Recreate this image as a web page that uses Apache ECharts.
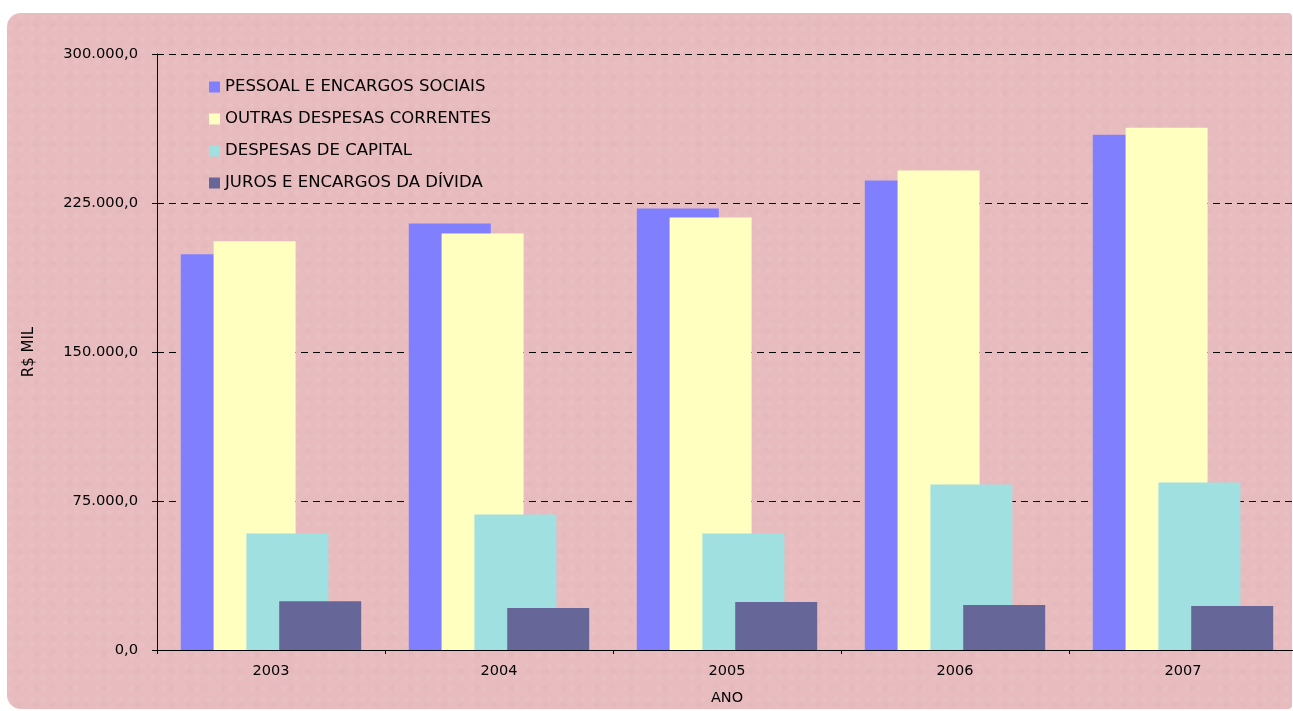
<!DOCTYPE html>
<html>
<head>
<meta charset="utf-8">
<script src="https://cdn.jsdelivr.net/npm/echarts@6/dist/echarts.min.js"></script>
<style>
html,body{margin:0;padding:0;overflow:hidden;background:#fff;width:1293px;height:711px;}
#wrap{position:absolute;left:0;top:0;width:1293px;height:711px;overflow:hidden;}
#bg{position:absolute;left:7px;top:13px;width:1285px;height:696px;border-radius:14px 4px 4px 14px;
background-color:#e8bcbf;
background-image:radial-gradient(circle at 30% 40%, rgba(255,255,255,0.07) 0, rgba(255,255,255,0) 4px),
radial-gradient(circle at 70% 70%, rgba(160,90,100,0.05) 0, rgba(160,90,100,0) 5px);
background-size:11px 11px, 17px 17px;}
#chart{position:absolute;left:0;top:0;width:1300px;height:711px;}
</style>
</head>
<body>
<div id="wrap">
<div id="bg"></div>
<div id="chart"></div>
</div>
<script>
const categories = ['2003', '2004', '2005', '2006', '2007'];
const seriesNames = ['PESSOAL E ENCARGOS SOCIAIS', 'OUTRAS DESPESAS CORRENTES', 'DESPESAS DE CAPITAL', 'JUROS E ENCARGOS DA DÍVIDA'];
const pessoal = [199200, 214700, 222200, 236300, 259400];
const outras = [205700, 209700, 217700, 241300, 262900];
const capital = [58700, 68200, 58700, 83300, 84300];
const juros = [24600, 21100, 24100, 22600, 22100];
const yTicks = {min: 0, max: 300000, interval: 75000};

const colors = ['#8080ff', '#ffffc0', '#a0e0e0', '#666699'];
const dataSets = [pessoal, outras, capital, juros];

function fmt(v) {
  const s = Math.round(v).toString().replace(/\B(?=(\d{3})+(?!\d))/g, '.');
  return s + ',0';
}

const font = "'DejaVu Sans'";
const chart = echarts.init(document.getElementById('chart'), null, {renderer: 'canvas', width: 1300, height: 711});
chart.setOption({
  backgroundColor: 'transparent',
  animation: false,
  textStyle: {fontFamily: font, color: '#000'},
  legend: {
    orient: 'vertical',
    left: 204,
    top: 72,
    itemWidth: 11,
    itemHeight: 11,
    itemGap: 12,
    icon: 'rect',
    textStyle: {fontFamily: font, fontSize: 16.5, color: '#000', lineHeight: 20},
    data: seriesNames
  },
  grid: {left: 157, right: 3, top: 54, bottom: 56, containLabel: false},
  xAxis: {
    type: 'category',
    data: categories,
    name: 'ANO',
    nameLocation: 'middle',
    nameGap: 41,
    nameTextStyle: {fontFamily: font, fontSize: 14.5, color: '#000'},
    axisLine: {show: true, lineStyle: {color: '#000', width: 1}},
    axisTick: {show: true, length: 4, lineStyle: {color: '#000'}},
    axisLabel: {fontFamily: font, fontSize: 14.5, color: '#000', margin: 14},
    splitLine: {show: false}
  },
  yAxis: {
    type: 'value',
    min: yTicks.min,
    max: yTicks.max,
    interval: yTicks.interval,
    name: 'R$ MIL',
    nameLocation: 'middle',
    nameGap: 120,
    nameRotate: 90,
    nameTextStyle: {fontFamily: font, fontSize: 15, color: '#000'},
    axisLine: {show: true, lineStyle: {color: '#000', width: 1}},
    axisTick: {show: true, length: 5, lineStyle: {color: '#000'}},
    axisLabel: {fontFamily: font, fontSize: 14.7, color: '#000', margin: 19, formatter: fmt},
    splitLine: {show: true, lineStyle: {color: '#000', type: [7, 5], width: 1}}
  },
  series: seriesNames.map((n, i) => ({
    name: n,
    type: 'bar',
    data: dataSets[i],
    barWidth: 82,
    barGap: '-60%',
    itemStyle: {color: colors[i]},
    emphasis: {disabled: true}
  }))
});
</script>
</body>
</html>
